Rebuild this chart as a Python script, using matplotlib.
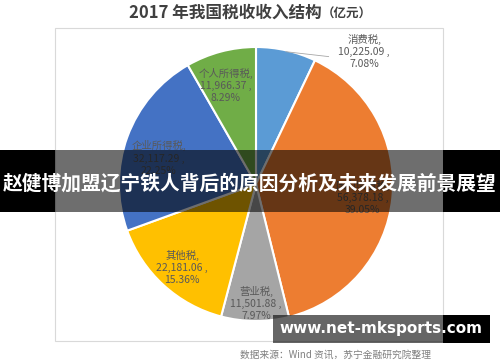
import numpy as np
import matplotlib
matplotlib.use("Agg")
import matplotlib.pyplot as plt
from matplotlib.patches import Rectangle

plt.rcParams['font.family'] = ['Noto Sans CJK SC', 'DejaVu Sans']

# data, clockwise from 12 o'clock
names = ["消费税", "国内增值税", "营业税", "其他税", "企业所得税", "个人所得税"]
amounts = [10225.09, 56378.18, 11501.88, 22181.06, 32117.29, 11966.37]
shares = [7.08, 39.05, 7.97, 15.36, 22.25, 8.29]
colors = ["#5B9BD5", "#ED7D31", "#A5A5A5", "#FFC000", "#4472C4", "#70AD47"]

# label centres in pie radius units
label_pos = [(0.79, 0.97), (0.78, -0.10), (0.0, -0.87), (-0.54, -0.61), (-0.71, 0.19), (-0.22, 0.72)]

W, H = 500, 362
fig = plt.figure(figsize=(W / 100, H / 100), dpi=100)

# background / frame layer in pixel coordinates
bg = fig.add_axes([0, 0, 1, 1])
bg.set_xlim(0, W)
bg.set_ylim(H, 0)
bg.axis("off")
bg.add_patch(Rectangle((55, 28), 388, 313, fill=False, edgecolor="#d9d9d9", lw=0.8))
bg.text(322, 13, "2017 年我国税收收入结构", ha="right", va="center",
        fontsize=12, fontweight="bold", color="#404040")
bg.text(322, 14, "（亿元）", ha="left", va="center", fontsize=9,
        fontweight="bold", color="#404040")
bg.text(336, 355, "数据来源：Wind 资讯，苏宁金融研究院整理", ha="center", va="center",
        fontsize=7, color="#7f7f7f", style="italic")

# pie
cx, cy, r = 256, 184, 137
ax = fig.add_axes([(cx - r) / W, (H - cy - r) / H, 2 * r / W, 2 * r / H])
wedges, _ = ax.pie(amounts, colors=colors, startangle=90, counterclock=False,
                   wedgeprops=dict(edgecolor="white", linewidth=1.5))
ax.set_xlim(-1, 1)
ax.set_ylim(-1, 1)
ax.set_aspect("equal")

for name, amt, pct, (lx, ly) in zip(names, amounts, shares, label_pos):
    ax.text(lx, ly, f"{name},\n{amt:,.2f} ,\n{pct:.2f}%", ha="center", va="center",
            fontsize=7.5, color="#595959", linespacing=1.25)

# leader line for the small outside label
w0 = wedges[0]
mid = np.deg2rad((w0.theta1 + w0.theta2) / 2)
ax.plot([np.cos(mid) * 0.99, 0.53], [np.sin(mid) * 0.99, 0.93], color="#a6a6a6", lw=0.6,
        clip_on=False)

# overlay banner and watermark
ov = fig.add_axes([0, 0, 1, 1])
ov.set_xlim(0, W)
ov.set_ylim(H, 0)
ov.axis("off")
ov.add_patch(Rectangle((0, 150), 55, 62, color="black", lw=0))
ov.add_patch(Rectangle((443, 150), 57, 62, color="black", lw=0))
ov.add_patch(Rectangle((55, 150), 388, 62, color="black", alpha=0.57, lw=0))
ov.text(250, 184, "赵健博加盟辽宁铁人背后的原因分析及未来发展前景展望", ha="center", va="center",
        fontsize=14.2, fontweight="bold", color="white")
ov.add_patch(Rectangle((273, 315), 170, 28, color="black", alpha=0.6, lw=0))
ov.add_patch(Rectangle((443, 315), 47, 28, color="black", lw=0))
ov.text(381, 329, "www.net-mksports.com", ha="center", va="center",
        fontsize=11, fontweight="bold", color="white", family="DejaVu Sans")

fig.savefig("out.png", dpi=100)
